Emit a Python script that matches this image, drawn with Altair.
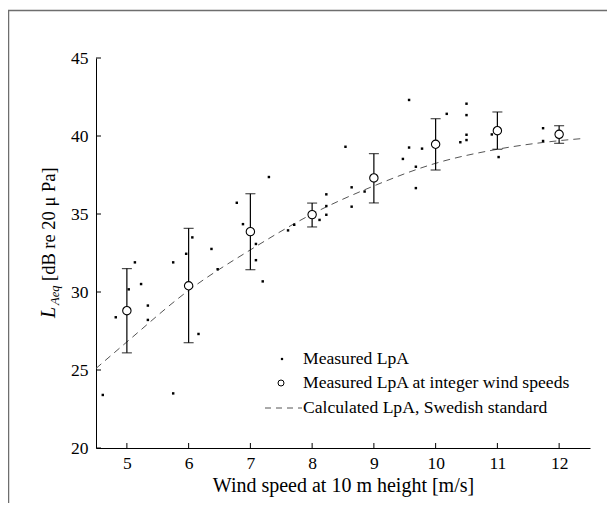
import altair as alt
import pandas as pd

# Measured LpA (individual measurements)
meas_ws = [4.61, 4.82, 5.03, 5.13, 5.23, 5.34, 5.34, 5.75, 5.75, 5.96, 6.06, 6.16,
           6.37, 6.47, 6.78, 6.88, 7.09, 7.09, 7.20, 7.30, 7.61, 7.71, 8.12, 8.23,
           8.23, 8.23, 8.54, 8.64, 8.64, 8.85, 9.47, 9.57, 9.57, 9.68, 9.68, 9.78,
           9.99, 10.18, 10.40, 10.50, 10.50, 10.50, 10.50, 10.91, 11.02, 11.74, 11.74]
meas_lp = [23.4, 28.38, 30.17, 31.9, 30.51, 29.13, 28.21, 23.5, 31.9, 32.45, 33.5, 27.31,
           32.76, 31.46, 35.72, 34.35, 33.08, 32.04, 30.68, 37.37, 33.95, 34.31, 34.62, 36.26,
           35.51, 34.95, 39.31, 36.71, 35.47, 36.44, 38.53, 42.31, 39.26, 38.03, 36.66, 39.19,
           39.31, 41.42, 39.6, 42.07, 41.34, 40.08, 39.74, 40.1, 38.65, 40.5, 39.68]

# Measured LpA at integer wind speeds (mean, lower, upper)
int_ws = [5, 6, 7, 8, 9, 10, 11, 12]
int_mean = [28.8, 30.4, 33.87, 34.96, 37.31, 39.47, 40.34, 40.11]
int_low = [26.1, 26.75, 31.43, 34.17, 35.71, 37.82, 39.15, 39.53]
int_high = [31.5, 34.08, 36.3, 35.7, 38.87, 41.11, 41.54, 40.66]

# Calculated LpA, Swedish standard
calc_ws = [4.5, 5.0, 6.0, 7.0, 8.0, 9.0, 10.0, 11.0, 12.0, 12.42]
calc_lp = [25.1, 26.8, 30.1, 32.7, 35.0, 36.8, 38.25, 39.15, 39.7, 39.85]

x_ticks = [5, 6, 7, 8, 9, 10, 11, 12]
y_ticks = [20, 25, 30, 35, 40, 45]

legend_labels = ["Measured LpA", "Measured LpA at integer wind speeds",
                 "Calculated LpA, Swedish standard"]

FONT = "Times New Roman, Liberation Serif, serif"
W, H = 494, 390
xs = alt.Scale(domain=[4.5, 12.5], nice=False, zero=False)
ys = alt.Scale(domain=[20, 45], nice=False, zero=False)

meas = pd.DataFrame({"ws": meas_ws, "lp": meas_lp})
integ = pd.DataFrame({"ws": int_ws, "m": int_mean, "lo": int_low, "hi": int_high})
calc = pd.DataFrame({"ws": calc_ws, "lp": calc_lp})
xt = pd.DataFrame({"v": x_ticks})
yt = pd.DataFrame({"v": y_ticks})
one = pd.DataFrame({"a": [0]})

xaxis = alt.Axis(title="Wind speed at 10 m height [m/s]", values=x_ticks, format="d",
                 ticks=False, grid=False, domainColor="black", domainWidth=1,
                 labelFont=FONT, labelFontSize=17.5, labelColor="black", labelPadding=6,
                 titleFont=FONT, titleFontSize=20, titleFontWeight="normal",
                 titleColor="black", titlePadding=4)
yaxis = alt.Axis(title=None, values=y_ticks, format="d", ticks=False, grid=False,
                 domainColor="black", domainWidth=1, labelFont=FONT, labelFontSize=17.5,
                 labelColor="black", labelPadding=8)

frame = alt.Chart(one).mark_rect(fillOpacity=0, stroke="#6e6e6e", strokeWidth=1.5).encode(
    x=alt.value(-87.5), x2=alt.value(800), y=alt.value(-47.5), y2=alt.value(800))

line = alt.Chart(calc).mark_line(color="#555555", strokeWidth=1, strokeDash=[7, 5],
                                 interpolate="monotone").encode(
    x=alt.X("ws:Q", scale=xs, axis=xaxis),
    y=alt.Y("lp:Q", scale=ys, axis=yaxis))

dots = alt.Chart(meas).mark_square(size=6, color="black", opacity=1).encode(
    x=alt.X("ws:Q", scale=xs), y=alt.Y("lp:Q", scale=ys))

bars = alt.Chart(integ).mark_rule(color="black", strokeWidth=1.2).encode(
    x=alt.X("ws:Q", scale=xs), y=alt.Y("lo:Q", scale=ys), y2="hi:Q")
cap_lo = alt.Chart(integ).mark_tick(color="black", orient="horizontal", size=10,
                                    thickness=1.2).encode(
    x=alt.X("ws:Q", scale=xs), y=alt.Y("lo:Q", scale=ys))
cap_hi = alt.Chart(integ).mark_tick(color="black", orient="horizontal", size=10,
                                    thickness=1.2).encode(
    x=alt.X("ws:Q", scale=xs), y=alt.Y("hi:Q", scale=ys))
circles = alt.Chart(integ).mark_point(shape="circle", size=70, filled=True, fill="white",
                                      stroke="black", strokeWidth=1.1, opacity=1).encode(
    x=alt.X("ws:Q", scale=xs), y=alt.Y("m:Q", scale=ys))

xtick = alt.Chart(xt).mark_rule(color="black", strokeWidth=1).encode(
    x=alt.X("v:Q", scale=xs), y=alt.value(H), y2=alt.value(H - 5))
ytick = alt.Chart(yt).mark_rule(color="black", strokeWidth=1).encode(
    y=alt.Y("v:Q", scale=ys), x=alt.value(0), x2=alt.value(5))

# y-axis title composed of italic L with subscript Aeq
t_L = alt.Chart(one).mark_text(text="L", font=FONT, fontSize=20, fontStyle="italic",
                               angle=270, align="left", baseline="alphabetic",
                               color="black").encode(x=alt.value(-41), y=alt.value(260))
t_sub = alt.Chart(one).mark_text(text="Aeq", font=FONT, fontSize=12.5, fontStyle="italic",
                                 angle=270, align="left", baseline="alphabetic",
                                 color="black").encode(x=alt.value(-37), y=alt.value(247))
t_rest = alt.Chart(one).mark_text(text="[dB re 20 μ Pa]", font=FONT, fontSize=18.5,
                                  angle=270, align="left", baseline="alphabetic",
                                  color="black").encode(x=alt.value(-41), y=alt.value(223))

# legend
leg_dot = alt.Chart(one).mark_square(size=5, color="black", opacity=1).encode(
    x=alt.value(186), y=alt.value(301))
leg_circ = alt.Chart(one).mark_point(shape="circle", size=36, filled=True, fill="white",
                                     stroke="black", strokeWidth=1, opacity=1).encode(
    x=alt.value(185), y=alt.value(325))
leg_line = alt.Chart(one).mark_rule(color="#555555", strokeWidth=1, strokeDash=[6, 5]).encode(
    x=alt.value(169), x2=alt.value(206), y=alt.value(350))
leg_txt = alt.Chart(pd.DataFrame({"t": legend_labels, "yy": [301, 325, 350]})).mark_text(
    font=FONT, fontSize=17.6, align="left", baseline="middle", color="black").encode(
    text="t:N", x=alt.value(207), y=alt.Y("yy:Q", scale=None))

chart = alt.layer(frame, line, dots, bars, cap_lo, cap_hi, circles, xtick, ytick,
                  t_L, t_sub, t_rest, leg_dot, leg_circ, leg_line, leg_txt).properties(
    width=W, height=H, autosize=alt.AutoSizeParams(type="none"),
    padding={"left": 88, "top": 50, "right": 17, "bottom": 55},
    background="white"
).configure_view(strokeWidth=0)

chart.save("out.html", embed_options={"renderer": "svg", "actions": False})
